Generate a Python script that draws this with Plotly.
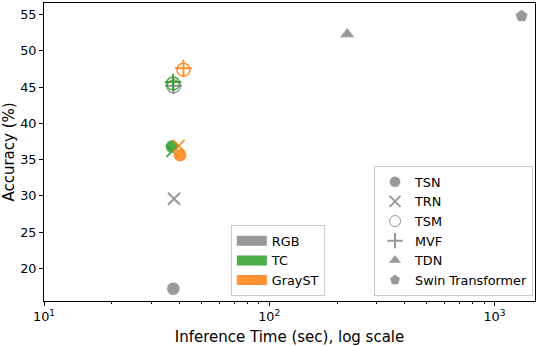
import plotly.graph_objects as go

models = ["TSN", "TRN", "TSM", "MVF", "TDN", "Swin Transformer"]
symbols = ["circle", "x-thin", "circle-open", "cross-thin", "triangle-up", "pentagon"]

modalities = ["RGB", "TC", "GrayST"]
colors = {"RGB": "rgba(127,127,127,0.8)", "TC": "rgba(44,160,44,0.85)", "GrayST": "rgba(255,127,14,0.85)"}

# inference time (sec) and accuracy (%) per modality, in the order of `models`
time_rgb = [37.5, 37.8, 37.6, 37.6, 222, 1320]
acc_rgb = [17.2, 29.6, 45.1, 45.2, 52.3, 54.8]

time_tc = [37.0, 37.2, 37.4, 37.4]
acc_tc = [36.8, 36.2, 45.5, 45.7]

time_gray = [40.2, 39.6, 41.6, 41.6]
acc_gray = [35.6, 36.9, 47.4, 47.6]

data = {
    "RGB": (time_rgb, acc_rgb),
    "TC": (time_tc, acc_tc),
    "GrayST": (time_gray, acc_gray),
}

fig = go.Figure()

for mod in modalities:
    times, accs = data[mod]
    for i, (t, a) in enumerate(zip(times, accs)):
        sym = symbols[i]
        thin = sym in ("x-thin", "cross-thin")
        opn = sym == "circle-open"
        fig.add_trace(go.Scatter(
            x=[t], y=[a], mode="markers", showlegend=False,
            marker=dict(
                symbol=sym,
                size=13 if not thin else 12,
                color=colors[mod],
                line=dict(
                    color=colors[mod] if (thin or opn) else "rgba(255,255,255,0.45)",
                    width=2 if thin else (1.5 if opn else 1),
                ),
            ),
        ))

# modality legend
for mod in modalities:
    fig.add_trace(go.Scatter(
        x=[None], y=[None], mode="lines", name=mod, legend="legend",
        line=dict(color=colors[mod], width=10),
    ))

# model legend
for m, sym in zip(models, symbols):
    thin = sym in ("x-thin", "cross-thin")
    fig.add_trace(go.Scatter(
        x=[None], y=[None], mode="markers", name=m, legend="legend2",
        marker=dict(symbol=sym, size=11, color="rgba(127,127,127,0.8)",
                    line=dict(color="rgba(127,127,127,0.8)" if thin or sym == "circle-open" else "rgba(255,255,255,0.45)",
                              width=2 if thin else 1)),
    ))

font = dict(family="DejaVu Sans", size=12.8, color="black")

fig.update_layout(
    width=538, height=346,
    margin=dict(l=44, r=3, t=2, b=43),
    plot_bgcolor="white", paper_bgcolor="white",
    font=font,
    legend=dict(
        x=0.572, y=0.017, xanchor="right", yanchor="bottom",
        bgcolor="rgba(255,255,255,0.8)", bordercolor="#cccccc", borderwidth=1,
        itemwidth=30, tracegroupgap=0,
    ),
    legend2=dict(
        x=0.996, y=0.017, xanchor="right", yanchor="bottom",
        bgcolor="rgba(255,255,255,0.8)", bordercolor="#cccccc", borderwidth=1,
    ),
)

fig.update_xaxes(
    type="log", range=[1, 3.18],
    tickvals=[10, 100, 1000],
    ticktext=["10<sup>1</sup>", "10<sup>2</sup>", "10<sup>3</sup>"],
    ticks="outside", ticklen=4, tickwidth=1, tickcolor="black",
    minor=dict(ticks="outside", ticklen=2, tickwidth=0.8, tickcolor="black",
               tickvals=[k * 10 ** p for p in (1, 2, 3) for k in range(2, 10)]),
    showgrid=False, zeroline=False,
    showline=True, linecolor="black", linewidth=1, mirror=True,
    title=dict(text="Inference Time (sec), log scale", standoff=9),
)
fig.update_yaxes(
    range=[15.5, 56.6], dtick=5, tick0=0,
    ticks="outside", ticklen=4, tickwidth=1, tickcolor="black",
    showgrid=False, zeroline=False,
    showline=True, linecolor="black", linewidth=1, mirror=True,
    title=dict(text="Accuracy (%)", standoff=4),
)

fig.write_html("out.html", config={"displayModeBar": False},
               post_script="document.body.style.margin='0';")
